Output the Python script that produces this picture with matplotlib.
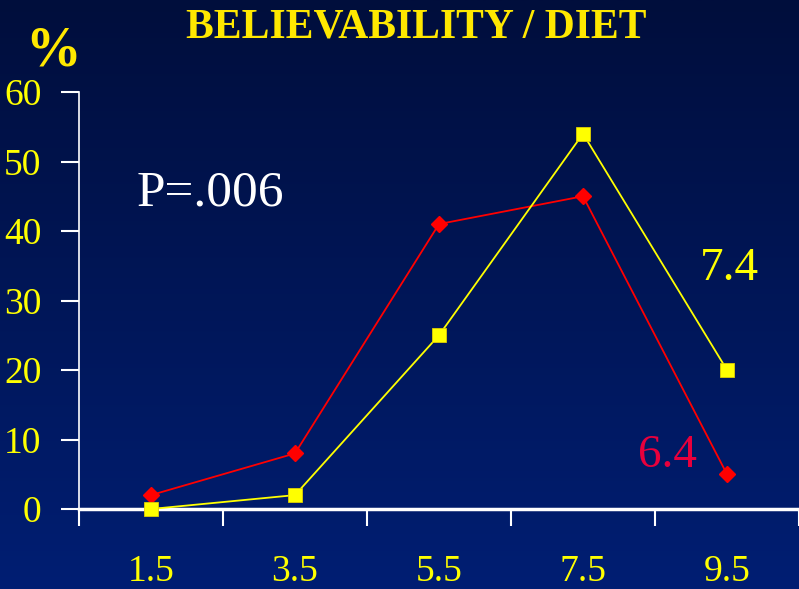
import numpy as np
import matplotlib.pyplot as plt

categories = ["1.5", "3.5", "5.5", "7.5", "9.5"]
red_values = [2, 8, 41, 45, 5]
yellow_values = [0, 2, 25, 54, 20]
y_ticks = [0, 10, 20, 30, 40, 50, 60]

W, H = 799, 589
fig = plt.figure(figsize=(W / 100, H / 100), dpi=100)

# gradient background
bg = fig.add_axes([0, 0, 1, 1], zorder=-10)
top = np.array([0, 14, 60]) / 255
bottom = np.array([0, 30, 115]) / 255
t = np.linspace(0, 1, 256)[:, None]
grad = (top * (1 - t) + bottom * t)[:, None, :]
bg.imshow(grad, aspect="auto", extent=[0, 1, 0, 1])
bg.axis("off")

ax = fig.add_axes([79 / W, 1 - 509 / H, 720 / W, 417 / H])
ax.set_facecolor("none")

x = np.arange(len(categories))
ax.plot(x, red_values, color="#ff0000", lw=1.3, marker="D", ms=8.5,
        mfc="#ff0000", mec="#ff0000", zorder=3, clip_on=False)
ax.plot(x, yellow_values, color="#ffff00", lw=1.3, marker="s", ms=9.5,
        mfc="#ffff00", mec="#e0d000", mew=0.6, zorder=4, clip_on=False)

ax.set_xlim(-0.5, 4.5)
ax.set_ylim(0, 60)

serif = "Liberation Serif"
ax.set_yticks(y_ticks)
ax.set_yticklabels([str(v) for v in y_ticks], family=serif, fontsize=27, color="#ffff00")
ax.tick_params(axis="y", length=13, width=1.5, color="white", pad=14)

ax.set_xticks(x)
ax.set_xticklabels(categories, family=serif, fontsize=27, color="#ffff00")
ax.tick_params(axis="x", which="major", length=0, pad=33)
ax.set_xticks(np.arange(-0.5, 5, 1), minor=True)
ax.tick_params(axis="x", which="minor", length=12, width=1.5, color="white")

for s in ["top", "right"]:
    ax.spines[s].set_visible(False)
for s in ["left", "bottom"]:
    ax.spines[s].set_color("white")
ax.spines["left"].set_linewidth(1.2)
ax.spines["bottom"].set_linewidth(2.5)

fig.text(416 / W, 1 - 38 / H, "BELIEVABILITY / DIET", family=serif, fontweight="bold",
         fontsize=30, color="#ffe800", ha="center", va="baseline")
fig.text(53 / W, 1 - 65 / H, "%", family=serif, fontweight="bold",
         fontsize=40, color="#ffe800", ha="center", va="baseline")
fig.text(137 / W, 1 - 205 / H, "P=.006", family=serif, fontsize=37,
         color="white", ha="left", va="baseline")
fig.text(700 / W, 1 - 280 / H, "7.4", family=serif, fontsize=34,
         color="#ffff00", ha="left", va="baseline")
fig.text(638 / W, 1 - 467 / H, "6.4", family=serif, fontsize=34,
         color="#e8003c", ha="left", va="baseline")

fig.savefig("out.png", dpi=100)
